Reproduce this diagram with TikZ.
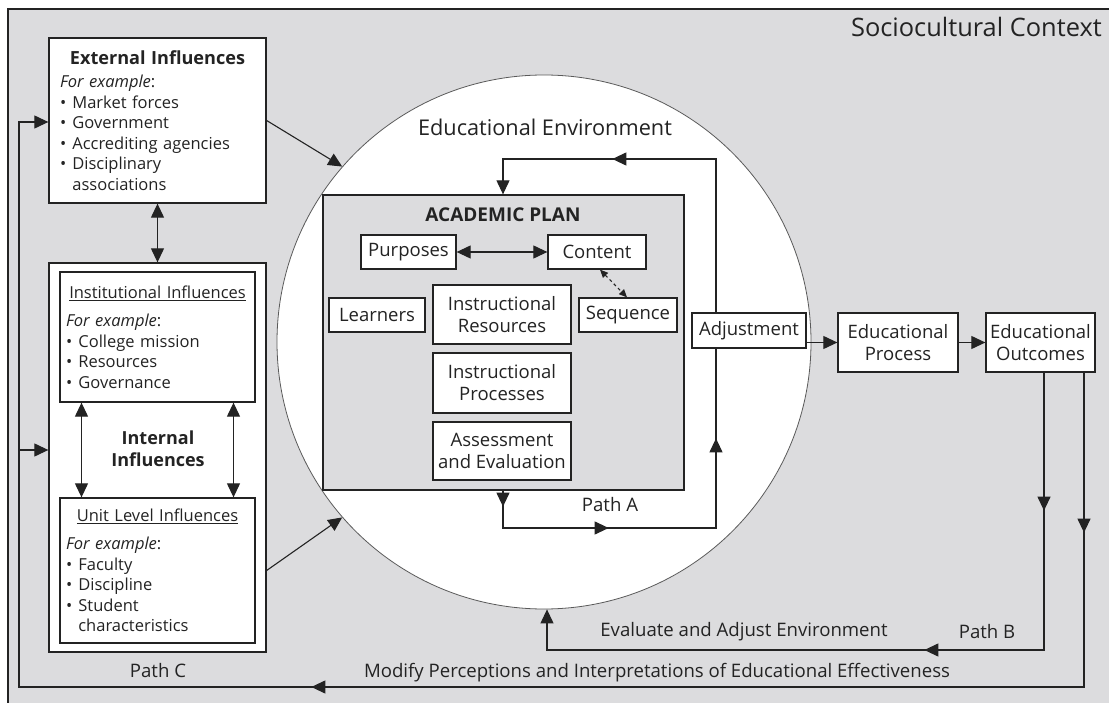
\documentclass[tikz,border=0pt]{standalone}
\usepackage{fontspec}
\setmainfont{Open Sans}
\usetikzlibrary{arrows.meta}
\usetikzlibrary{decorations.markings}
\definecolor{ctxgray}{RGB}{220, 220, 222}
\definecolor{ink}{RGB}{35, 35, 35}
\definecolor{rim}{RGB}{90, 90, 90}

\newcommand{\blt}{\makebox[0.75em][l]{\textbullet}}
\newcommand{\bltpad}{\hspace*{0.75em}}

\tikzset{
  box/.style={draw=ink, fill=white, line width=1.3pt, inner sep=0pt, text=ink,
    align=center, font=\fontsize{18.5}{22}\selectfont},
  listbox/.style={align=left, font=\fontsize{16.5}{20.5}\selectfont},
  lbl/.style={text=ink, inner sep=0pt, font=\fontsize{18.6}{22}\selectfont},
  conn/.style={draw=ink, line width=1.1pt},
  tip/.style={-{Triangle[width=13pt,length=14pt]}},
  dbltip/.style={{Triangle[width=13pt,length=14pt]}-{Triangle[width=13pt,length=14pt]}},
  midtip/.style={postaction={decorate, decoration={markings,
    mark=at position #1 with {\arrow{Triangle[width=13pt,length=14pt]}}}}},
}

\begin{document}
\begin{tikzpicture}[x=1pt, y=-1pt]
\useasboundingbox (0,0) rectangle (1109,703);
\fill[white] (0,0) rectangle (1109,703);
\fill[ctxgray] (8,9) rectangle (1109,703);
\draw[ink, line width=1.3pt] (8,703) -- (8,9) -- (1109,9);

% environment circle and academic plan
\node (env) [circle, minimum size=534pt, inner sep=0pt, fill=white, draw=rim, line width=0.8pt] at (544,342) {};
\node (plan) [draw=ink, fill=ctxgray, line width=1.3pt, minimum width=361pt, minimum height=295pt] at (503.5,342.5) {};

\node (ctx) [lbl, anchor=east, font=\fontsize{25.4}{30}\selectfont] at (1102,27) {Sociocultural Context};
\node (envlbl) [lbl, font=\fontsize{21.7}{26}\selectfont] at (545,127) {Educational Environment};
\node (planlbl) [lbl, font=\fontsize{19}{22}\selectfont\bfseries] at (503,215) {ACADEMIC PLAN};

% influences
\node (ext) [box, listbox, minimum width=217pt, minimum height=165pt, text width=195pt] at (157.5,120.5)
  {{\centering\fontsize{18.1}{21}\selectfont\bfseries External Influences\par}\vspace{3pt}
   \textit{For example}:\\ \blt Market forces\\ \blt Government\\ \blt Accrediting agencies\\
   \blt Disciplinary\\ \bltpad associations};
\node (intbox) [box, minimum width=217pt, minimum height=389pt] at (157.5,457.5) {};
\node (inst) [box, listbox, minimum width=195pt, minimum height=130pt, text width=183pt] at (157.5,337)
  {{\centering\underline{Institutional Influences}\par}\vspace{8pt}
   \textit{For example}:\\ \blt College mission\\ \blt Resources\\ \blt Governance};
\node (unit) [box, listbox, minimum width=195pt, minimum height=145pt, text width=183pt] at (157.5,570.5)
  {{\centering\underline{Unit Level Influences}\par}\vspace{8pt}
   \textit{For example}:\\ \blt Faculty\\ \blt Discipline\\ \blt Student\\ \bltpad characteristics};
\node (intlbl) [lbl, align=center, font=\fontsize{18}{22}\selectfont\bfseries] at (158,449) {Internal\\Influences};

% plan elements
\node (purp) [box, minimum width=95pt, minimum height=34pt] at (408.5,252) {Purposes};
\node (cont) [box, minimum width=98pt, minimum height=34pt] at (597,252) {Content};
\node (learn) [box, minimum width=96pt, minimum height=34pt] at (377,315) {Learners};
\node (ires) [box, minimum width=138pt, minimum height=59pt] at (502,314.5) {Instructional\\Resources};
\node (seq) [box, minimum width=98pt, minimum height=34pt] at (628,315) {Sequence};
\node (iproc) [box, minimum width=138pt, minimum height=60pt] at (502,383) {Instructional\\Processes};
\node (assess) [box, minimum width=138pt, minimum height=58pt] at (502,451) {Assessment\\and Evaluation};

% process chain
\node (adj) [box, minimum width=114pt, minimum height=35pt] at (749,330.5) {Adjustment};
\node (eproc) [box, minimum width=120pt, minimum height=59pt] at (898,342.5) {Educational\\Process};
\node (eout) [box, minimum width=109pt, minimum height=59pt] at (1040.5,342.5) {Educational\\Outcomes};

% path labels
\node (pathA) [lbl] at (610,505) {Path A};
\node (evaltxt) [lbl] at (744,632) {Evaluate and Adjust Environment};
\node (pathB) [lbl] at (987,632) {Path B};
\node (modtxt) [lbl] at (657,673) {Modify Perceptions and Interpretations of Educational Effectiveness};
\node (pathC) [lbl] at (158,671) {Path C};

\coordinate (paA) at (503,528);
\coordinate (paB) at (716,528);
\coordinate (topR) at (716,159);
\coordinate (topL) at (503,159);
\coordinate (pbA) at (1044,650);
\coordinate (pbB) at (547,650);
\coordinate (pcA) at (1084,687);
\coordinate (pcB) at (19,687);
\coordinate (pcTop) at (19,122);
\coordinate (pcMid) at (19,450);

% connectors
\draw[conn, tip] (ext.east) -- (env.139);
\draw[conn, tip] (unit.east -| intbox.east) -- (env.221);
\draw[conn, dbltip] (ext.south) -- (intbox.north);
\draw[conn, dbltip] ([xshift=-76pt]inst.south) -- ([xshift=-76pt]unit.north);
\draw[conn, dbltip] ([xshift=76pt]inst.south) -- ([xshift=76pt]unit.north);
\draw[conn, dbltip] (purp.east) -- (cont.west);
\draw[conn, dashed, {Triangle[width=7pt,length=8pt]}-{Triangle[width=7pt,length=8pt]}] ([xshift=3pt]cont.south) -- ([xshift=-1pt]seq.north);
\draw[conn, tip] (eproc.west -| adj.east) -- (eproc.west);
\draw[conn, tip] (eproc.east) -- (eout.west);

% path A and the loop back to the plan
\draw[conn, midtip=16pt, midtip=143pt, midtip=340pt] (plan.south -| paA) -- (paA) -- (paB) -- (adj.south -| paB);
\draw[conn, tip, midtip=257pt] (adj.north -| topR) -- (topR) -- (topL) -- (plan.north -| topL);

% path B
\draw[conn, tip, midtip=138pt, midtip=397pt] (eout.south -| pbA) -- (pbA) -- (pbB) -- (env.south -| pbB);

% path C
\draw[conn, tip, midtip=160pt, midtip=1087pt] (eout.south -| pcA) -- (pcA) -- (pcB) -- (pcTop) -- (ext.west |- pcTop);
\draw[conn, tip] (pcMid) -- (intbox.west |- pcMid);
\end{tikzpicture}
\end{document}
